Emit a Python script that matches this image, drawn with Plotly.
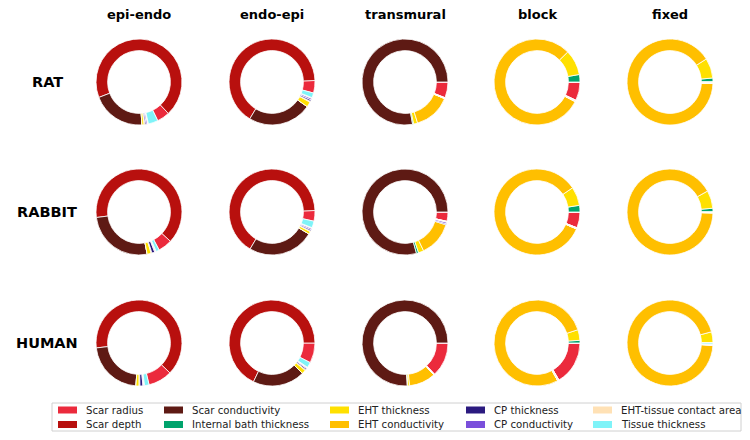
import plotly.graph_objects as go

# page has an 8px body margin, so the figure is smaller and shifted to avoid overflow
OFF = 8
W, H = 750 - 2 * OFF, 440 - 2 * OFF

labels = ["Scar radius", "Scar depth", "Scar conductivity", "Internal bath thickness",
          "EHT thickness", "EHT conductivity", "CP thickness", "CP conductivity",
          "EHT-tissue contact area", "Tissue thickness"]
colors = ["#EB2A3C", "#B8100E", "#5E1A14", "#00A36C", "#FFE000",
          "#FFBF00", "#2B1A7F", "#7A4FDB", "#FFE1B5", "#7FF3F8"]

scenarios = ["epi-endo", "endo-epi", "transmural", "block", "fixed"]
species = ["RAT", "RABBIT", "HUMAN"]

# values per scenario, order as in labels
rat_vals = [
    [4.7, 68, 20, 0, 0.8, 0.3, 0.5, 0.5, 0.3, 3.6],
    [4.7, 66, 24, 0, 2.0, 0.3, 0.6, 0.6, 0.3, 1.8],
    [6.0, 0, 78, 0.4, 1.5, 14, 0, 0, 0.3, 0],
    [7.0, 0, 0, 2.8, 9.5, 80, 0, 0, 0.5, 0],
    [0, 0, 0, 1.5, 7.5, 90.5, 0, 0, 0.5, 0],
]
rabbit_vals = [
    [5.3, 64, 26, 0, 1.5, 0.3, 1.1, 0.3, 0.3, 1.2],
    [4.0, 66, 25, 0, 1.0, 0.3, 0.5, 0.5, 0.3, 2.5],
    [3.5, 0, 79, 0.8, 2.0, 13, 0.4, 0.6, 0.3, 0],
    [6.0, 0, 0, 2.5, 7.0, 84, 0, 0, 0.4, 0],
    [0, 0, 0, 1.4, 6.7, 91.5, 0, 0, 0.3, 0],
]
human_vals = [
    [9.0, 64, 22, 0, 1.2, 0.3, 1.1, 0.3, 0.3, 1.7],
    [7.5, 67.5, 19.5, 0, 1.5, 0.3, 0.5, 0.3, 0.3, 2.0],
    [13, 0, 76, 0.2, 0.7, 10, 0, 0, 0.3, 0],
    [16.5, 0, 0, 1.0, 4.0, 78, 0, 0, 0.5, 0],
    [0, 0, 0, 0.2, 4.0, 95, 0, 0, 0.3, 0.5],
]
all_vals = [rat_vals, rabbit_vals, human_vals]

# start angle of first wedge (degrees, counterclockwise from 3 o'clock)
start_angle = [[-47, 2, 0, 0, 0],
               [-43, 2, 0, 0, 0],
               [-44, 0, 0, 0, 0]]

col_x = [139, 272, 405, 537, 670]
row_y = [82, 212, 343]
R = 43


def px(x):
    return (x - OFF) / W


def py(y):
    return 1 - (y - OFF) / H


fig = go.Figure()
for i, sp in enumerate(species):
    for j, sc in enumerate(scenarios):
        cx, cy = col_x[j], row_y[i]
        fig.add_trace(go.Pie(
            labels=labels,
            values=all_vals[i][j],
            marker=dict(colors=colors, line=dict(color="white", width=0.8)),
            hole=0.73,
            sort=False,
            direction="counterclockwise",
            rotation=90 - start_angle[i][j],
            textinfo="none",
            showlegend=False,
            domain=dict(x=[px(cx - R), px(cx + R)], y=[py(cy + R), py(cy - R)]),
        ))

annotations = []
for j, sc in enumerate(scenarios):
    annotations.append(dict(x=px(col_x[j]), y=py(15), text="<b>%s</b>" % sc, showarrow=False,
                            xanchor="center", yanchor="middle",
                            font=dict(family="DejaVu Sans", size=13, color="black")))
for i, sp in enumerate(species):
    annotations.append(dict(x=px(47), y=py(row_y[i]), text="<b>%s</b>" % sp, showarrow=False,
                            xanchor="center", yanchor="middle",
                            font=dict(family="DejaVu Sans", size=14.5, color="black")))

# legend drawn by hand, column-major like the original
shapes = [dict(type="rect", xref="paper", yref="paper", x0=px(52), x1=px(741), y0=py(431), y1=py(403),
               line=dict(color="#d0d0d0", width=1), fillcolor="white", layer="below")]
leg_col_x = [58, 164, 330, 466, 593]
leg_row_y = [410, 424.5]
for k, lab in enumerate(labels):
    c, r = k // 2, k % 2
    x0, y0 = leg_col_x[c], leg_row_y[r]
    shapes.append(dict(type="rect", xref="paper", yref="paper",
                       x0=px(x0), x1=px(x0 + 19), y0=py(y0 + 3.5), y1=py(y0 - 3.5),
                       line=dict(width=0), fillcolor=colors[k]))
    annotations.append(dict(x=px(x0 + 26), y=py(y0), text=lab, showarrow=False,
                            xanchor="left", yanchor="middle",
                            font=dict(family="DejaVu Sans", size=10.2, color="#222")))

fig.update_layout(
    width=W, height=H,
    margin=dict(l=0, r=0, t=0, b=0),
    paper_bgcolor="white", plot_bgcolor="white",
    annotations=annotations, shapes=shapes,
)
fig.write_html("out.html")
